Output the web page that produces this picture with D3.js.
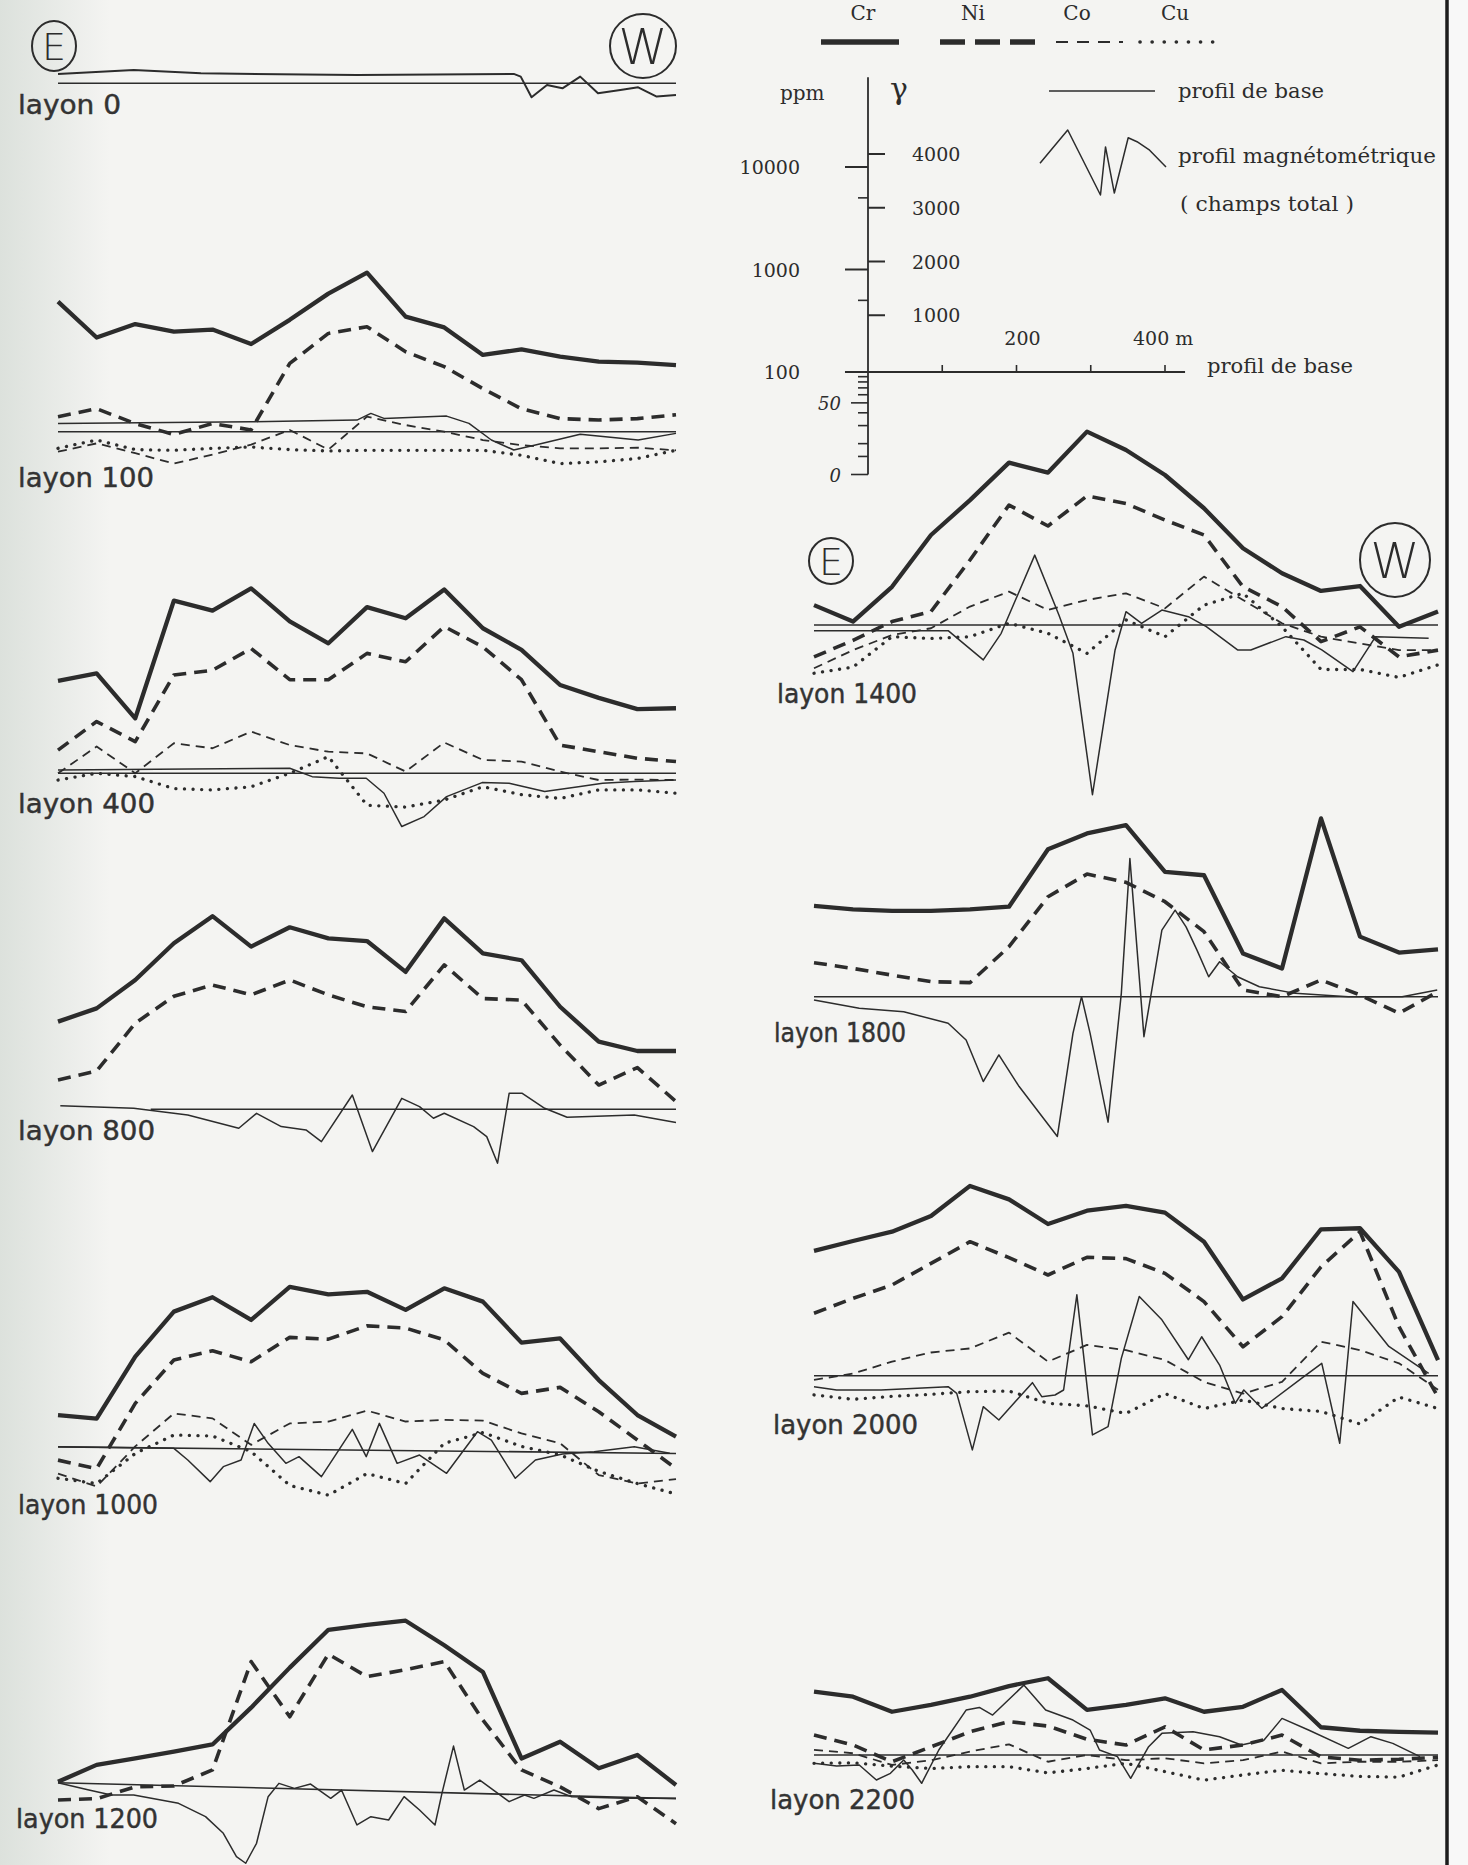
<!DOCTYPE html>
<html><head><meta charset="utf-8">
<script src="https://cdn.jsdelivr.net/npm/d3@7"></script>
<style>html,body{margin:0;padding:0;background:#f4f4f2;} svg{display:block}</style>
</head><body><svg id="c" width="1468" height="1865"></svg>
<script>
// ---------------- DATA ----------------
// stations along each profile (m), Cr/Ni/Co/Cu in ppm, magnetic anomaly in gamma
const stations = [0,50,100,150,200,250,300,350,400,450,500,550,600,650,700,750,800];

const magX0 = [0,98,185,387,590,599,613,633,653,676,699,728,751,775,800];
const magG0 = [180,256,192,160,180,128,-269,-32,-96,128,-192,-128,-77,-256,-224];

const cr100 = [1830,822,1110,935,980,710,1220,2190,3500,1310,1030,556,630,535,478,468,443];
const ni100 = [140,167,120,94,120,104,460,900,1045,598,428,262,167,134,130,134,146];
const co100 = [64,77,62,49,60,75,104,67,140,116,100,83,74,69,69,70,66];
const cu100 = [69,83,67,66,69,71,67,65,66,66,66,66,59,49,51,55,66];
const magX100 = [0,249,387,405,422,503,532,561,590,618,676,751,800];
const magG100 = [160,192,224,352,256,300,160,-160,-352,-256,-51,-160,-32];

const cr400 = [790,935,342,4750,3800,6250,2980,1830,4100,3200,6100,2560,1580,720,540,420,428];
const ni400 = [168,318,203,900,1000,1630,810,810,1460,1210,2660,1690,810,188,162,140,130];
const co400 = [100,182,100,196,175,254,188,162,156,104,199,135,130,104,86,87,86];
const cu400 = [86,100,93,71,69,74,100,145,49,47,55,74,62,57,69,69,64];
const magX400 = [0,300,329,364,399,422,445,474,503,549,584,630,676,705,746,800];
const magG400 = [64,96,-64,-96,-96,-384,-1024,-832,-448,-179,-192,-352,-256,-192,-160,-128];

const cr800 = [710,955,1800,4100,7500,3800,5850,4570,4300,2160,7140,3270,2800,990,454,368,368];
const ni800 = [193,235,685,1250,1610,1290,1800,1290,990,890,2520,1190,1150,420,172,254,119];
const magX800 = [3,98,168,234,257,289,321,341,381,407,445,468,486,500,538,555,569,584,601,630,659,746,800];
const magG800 = [70,19,-109,-365,-77,-333,-397,-621,275,-813,211,51,-173,-77,-333,-525,-1037,307,307,19,-154,-109,-256];

const cr1000 = [221,205,820,2240,3090,1860,3900,3300,3490,2330,3770,2800,1120,1230,485,222,137];
const ni1000 = [81,67,288,760,935,730,1260,1210,1630,1550,1190,563,360,412,239,127,67];
const co1000 = [60,45,110,230,206,114,184,192,245,192,199,196,147,118,58,48,53];
const cu1000 = [54,48,94,142,139,98,46,37,60,48,118,150,110,91,63,48,38];
const magX1000 = [0,150,168,197,214,237,254,272,295,312,341,381,399,416,439,468,503,543,561,592,618,653,694,746,792];
const magG1000 = [77,45,-179,-595,-307,-179,525,141,-243,-115,-499,410,-115,525,-243,-83,-435,365,205,-531,-179,-64,-19,77,-51];

const cr1200 = [102,149,172,200,235,535,1310,3050,3400,3740,2160,1190,172,250,138,186,95];
const ni1200 = [68,70,91,93,133,1500,437,1770,1070,1250,1500,406,133,91,56,73,40];
const magX1200 = [0,40,69,98,156,191,214,231,243,257,272,286,306,327,353,367,387,405,428,448,468,488,497,512,526,546,584,604,616,642,665,734,800];
const magG1200 = [0,-141,-237,-237,-397,-653,-973,-1421,-1549,-1165,-269,-13,-109,-26,-301,-141,-813,-653,-717,-269,-525,-813,-205,704,-141,51,-365,-237,-301,-141,-269,-301,-301];

const cr1400 = [156,108,235,748,1630,3770,3020,7540,5000,2860,1360,556,318,214,239,96,135];
const ni1400 = [49,71,108,135,428,1460,915,1790,1510,1045,748,235,151,69,96,49,57];
const co1400 = [38,57,80,93,151,211,140,175,203,145,295,175,104,77,66,57,57];
const cu1400 = [34,39,77,74,77,104,83,53,112,77,156,203,96,37,37,31,41];
const magX1400 = [0,172,217,240,283,314,332,357,386,400,420,446,480,503,543,560,605,628,651,691,720,788];
const magG1400 = [-109,-109,-672,-160,1344,192,-544,-3264,-480,256,32,288,160,-32,-480,-480,-224,-288,-480,-896,-224,-256];

const cr1800 = [760,705,680,680,705,748,2700,3850,4640,1630,1510,263,188,5380,383,268,288];
const ni1800 = [214,188,162,140,137,306,935,1550,1290,836,428,116,100,145,104,69,112];
const magX1800 = [0,58,115,172,195,217,237,263,312,332,343,354,377,394,405,423,446,463,477,491,506,520,543,571,617,685,754,799];
const magG1800 = [-64,-224,-288,-512,-832,-1632,-1120,-1728,-2688,-704,0,-704,-2412,64,2656,-768,1280,1664,1344,896,384,672,384,192,64,0,0,128];

const cr2000 = [1630,2030,2500,3550,6960,5150,2970,4000,4450,3830,2000,550,880,2640,2700,1020,142];
const ni2000 = [404,563,760,1230,2000,1400,950,1410,1370,985,524,191,374,1140,2500,299,62];
const co2000 = [91,105,137,168,184,262,137,199,177,142,87,67,87,214,177,132,73];
const cu2000 = [65,59,63,66,70,71,54,51,43,67,48,58,48,45,34,62,48];
const magX2000 = [0,29,86,172,183,203,217,237,280,292,309,320,337,357,377,394,417,446,480,497,520,540,551,574,628,651,674,691,737,788];
const magG2000 = [-211,-275,-275,-211,-339,-1427,-595,-851,-134,-403,-371,-275,1555,-1139,-979,333,1523,1075,307,749,205,-531,-275,-627,-19,237,-1299,1427,563,45];

const cr2200 = [412,368,263,306,368,467,556,274,306,355,263,294,428,186,172,168,165];
const ni2200 = [156,125,86,120,168,211,191,142,125,188,112,125,156,96,89,91,95];
const co2200 = [112,104,80,89,108,127,86,100,89,93,83,89,108,83,86,86,89];
const cu2200 = [83,84,78,74,77,77,67,74,83,69,57,64,71,66,62,61,80];
const magX2200 = [0,29,58,80,98,115,126,138,160,195,212,229,269,297,332,354,366,389,406,429,446,486,520,548,577,600,634,685,714,742,777];
const magG2200 = [-160,-211,-192,-480,-352,-96,-288,-544,96,864,915,768,1344,864,672,480,96,-32,-448,160,416,448,352,192,288,704,480,128,352,224,-32];

// legend content
const elements = ["Cr","Ni","Co","Cu"];
const ppmMajor = [100,1000,10000];
const ppmMinor = [500,5000];
const ppmLow = [90,80,70,60,40,30,20,15];
const ppmLowLabelled = [50,10];
const ppmLowLabels = ["50","0"];
const gammaTicks = [1000,2000,3000,4000];
const distTicks = [100,200,300,400];
const glyphU = [0,.22,.48,.52,.59,.70,.77,.87,1];
const glyphV = [.49,1,0,.74,.03,.88,.82,.69,.43];

// ---------------- LAYOUT ----------------
const svg = d3.select("#c");
const INK = "#2c2c2c";
const defs = svg.append("defs");
const grad = defs.append("linearGradient").attr("id","lg").attr("x1",0).attr("x2",1).attr("y1",0).attr("y2",0);
grad.append("stop").attr("offset",0).attr("stop-color","#dce1dc");
grad.append("stop").attr("offset",1).attr("stop-color","#f4f4f2");
svg.append("rect").attr("width",1468).attr("height",1865).attr("fill","#f4f4f2");
svg.append("rect").attr("width",110).attr("height",1865).attr("fill","url(#lg)");
svg.append("rect").attr("x",1449).attr("width",19).attr("height",1865).attr("fill","#f8f8f8");

const xCol = [
  d3.scaleLinear().domain([0,800]).range([58,676]),
  d3.scaleLinear().domain([0,800]).range([814,1438])
];
const DECADE = 103, GPX = 52;

const panels = [
  {name:"layon 0", col:0, baseY:83.3, lab:[18,114,103], magX:magX0, magG:magG0, base:[0,800,100,100]},
  {name:"layon 100", col:0, baseY:431.7, lab:[18,487,136], cr:cr100, ni:ni100, co:co100, cu:cu100, magX:magX100, magG:magG100, base:[0,800,100,100]},
  {name:"layon 400", col:0, baseY:773.3, lab:[18,813,137], cr:cr400, ni:ni400, co:co400, cu:cu400, magX:magX400, magG:magG400, base:[0,800,100,100]},
  {name:"layon 800", col:0, baseY:1109.3, lab:[18,1140,137], cr:cr800, ni:ni800, magX:magX800, magG:magG800, base:[120,800,100,100]},
  {name:"layon 1000", col:0, baseY:1450.7, lab:[18,1514,140], cr:cr1000, ni:ni1000, co:co1000, cu:cu1000, magX:magX1000, magG:magG1000, base:[0,800,109,94]},
  {name:"layon 1200", col:0, baseY:1782.7, lab:[16,1828,142], cr:cr1200, ni:ni1200, magX:magX1200, magG:magG1200, base:[0,800,100,70]},
  {name:"layon 1400", col:1, baseY:625, lab:[777,703,140], cr:cr1400, ni:ni1400, co:co1400, cu:cu1400, magX:magX1400, magG:magG1400, base:[0,800,100,100]},
  {name:"layon 1800", col:1, baseY:996.7, lab:[774,1042,132], cr:cr1800, ni:ni1800, magX:magX1800, magG:magG1800, base:[0,800,100,100]},
  {name:"layon 2000", col:1, baseY:1375.7, lab:[773,1434,145], cr:cr2000, ni:ni2000, co:co2000, cu:cu2000, magX:magX2000, magG:magG2000, base:[0,800,100,100]},
  {name:"layon 2200", col:1, baseY:1755, lab:[770,1809,145], cr:cr2200, ni:ni2200, co:co2200, cu:cu2200, magX:magX2200, magG:magG2200, base:[0,800,100,100]}
];

const styles = {
  base:{w:1.6, dash:null},
  mag:{w:1.5, dash:null},
  cu:{w:3.3, dash:"0.1,8.5", cap:"round"},
  co:{w:1.8, dash:"9,6"},
  ni:{w:3.6, dash:"13,8"},
  cr:{w:4.3, dash:null}
};
function stroke(sel, st){
  sel.attr("fill","none").attr("stroke",INK).attr("stroke-width",st.w)
     .attr("stroke-linejoin","round").attr("stroke-linecap",st.cap||"butt");
  if(st.dash) sel.attr("stroke-dasharray",st.dash);
  return sel;
}

panels.forEach(p=>{
  const x = xCol[p.col];
  const y = d3.scaleLog().domain([100,1000]).range([p.baseY, p.baseY-DECADE]);
  const g = d3.scaleLinear().domain([0,1000]).range([p.baseY, p.baseY-GPX]);
  const grp = svg.append("g");
  stroke(grp.append("path").attr("d", d3.line().x(d=>x(d[0])).y(d=>y(d[1]))([[p.base[0],p.base[2]],[p.base[1],p.base[3]]])), styles.base);
  stroke(grp.append("path").attr("d", d3.line().x((d,i)=>x(p.magX[i])).y(d=>g(d))(p.magG)), p.cr ? styles.mag : {w:2});
  ["cu","co","ni","cr"].forEach(k=>{
    if(!p[k]) return;
    stroke(grp.append("path").attr("d", d3.line().x((d,i)=>x(stations[i])).y(d=>y(d))(p[k])), styles[k]);
  });
  grp.append("text").attr("x",p.lab[0]).attr("y",p.lab[1]).text(p.name)
    .attr("font-family","'DejaVu Sans Condensed','DejaVu Sans',sans-serif").attr("font-size",26)
    .attr("fill","#333").attr("stroke","#333").attr("stroke-width",0.4)
    .attr("textLength",p.lab[2]).attr("lengthAdjust","spacingAndGlyphs");
});

// E / W markers
function marker(cx,cy,rx,ry,letter,fs){
  svg.append("ellipse").attr("cx",cx).attr("cy",cy).attr("rx",rx).attr("ry",ry)
    .attr("fill","none").attr("stroke",INK).attr("stroke-width",2);
  svg.append("text").attr("x",cx).attr("y",cy+fs*0.36).attr("text-anchor","middle")
    .attr("font-family","'DejaVu Sans',sans-serif").attr("font-weight",200).attr("font-size",fs)
    .attr("fill",INK).text(letter);
}
marker(54,46,22,25,"E",38);
marker(643,46,33,32,"W",50);
marker(831,561,22,23,"E",38);
marker(1395,560,35,37,"W",50);

// right border
svg.append("line").attr("x1",1447).attr("x2",1447).attr("y1",0).attr("y2",1865).attr("stroke","#1c1c1c").attr("stroke-width",3.5);

// ---------------- LEGEND ----------------
const SERIF = "'DejaVu Serif','Liberation Serif',serif";
const leg = svg.append("g");
const headX = [863,973,1077,1175];
leg.selectAll("text.h").data(elements).join("text").attr("class","h")
  .attr("x",(d,i)=>headX[i]).attr("y",20).attr("text-anchor","middle")
  .attr("font-family",SERIF).attr("font-size",20).attr("fill",INK).text(d=>d);
const sampleX = [[821,899],[940,1037],[1056,1123],[1140,1216]];
const sampleSt = [{w:5.5},{w:5.5,dash:"25,10"},{w:2,dash:"12,9"},{w:3.6,dash:"0.1,12",cap:"round"}];
sampleX.forEach((s,i)=>{
  stroke(leg.append("line").attr("x1",s[0]).attr("x2",s[1]).attr("y1",42).attr("y2",42), sampleSt[i]);
});

const lp = d3.scaleLog().domain([100,10000]).range([372,167]);
const lg = d3.scaleLinear().domain([0,4000]).range([369,154]);
const lx = d3.scaleLinear().domain([0,400]).range([868,1165]);
const AX = lx(0);
leg.append("line").attr("x1",AX).attr("x2",AX).attr("y1",lp(75000)).attr("y2",lp(10)).attr("stroke",INK).attr("stroke-width",1.8);
leg.selectAll("line.pm").data(ppmMajor).join("line").attr("class","pm")
  .attr("x1",AX-23).attr("x2",AX).attr("y1",d=>lp(d)).attr("y2",d=>lp(d)).attr("stroke",INK).attr("stroke-width",2);
leg.selectAll("text.pm").data(ppmMajor).join("text").attr("class","pm")
  .attr("x",AX-68).attr("y",d=>lp(d)+7).attr("text-anchor","end")
  .attr("font-family",SERIF).attr("font-size",19).attr("fill",INK).text(d=>d3.format("d")(d));
leg.selectAll("line.pn").data(ppmMinor.concat(ppmLow)).join("line").attr("class","pn")
  .attr("x1",AX-10).attr("x2",AX).attr("y1",d=>lp(d)).attr("y2",d=>lp(d)).attr("stroke",INK).attr("stroke-width",1.6);
leg.selectAll("line.pl").data(ppmLowLabelled).join("line").attr("class","pl")
  .attr("x1",AX-17).attr("x2",AX).attr("y1",d=>lp(d)).attr("y2",d=>lp(d)).attr("stroke",INK).attr("stroke-width",1.6);
leg.selectAll("text.pl").data(ppmLowLabelled).join("text").attr("class","pl")
  .attr("x",AX-27).attr("y",d=>lp(d)+7).attr("text-anchor","end").attr("font-style","italic")
  .attr("font-family",SERIF).attr("font-size",18).attr("fill",INK).text((d,i)=>ppmLowLabels[i]);
leg.selectAll("line.gm").data(gammaTicks).join("line").attr("class","gm")
  .attr("x1",AX).attr("x2",AX+17).attr("y1",d=>lg(d)).attr("y2",d=>lg(d)).attr("stroke",INK).attr("stroke-width",2);
leg.selectAll("text.gm").data(gammaTicks).join("text").attr("class","gm")
  .attr("x",AX+44).attr("y",d=>lg(d)+7)
  .attr("font-family",SERIF).attr("font-size",19).attr("fill",INK).text(d=>d);
leg.append("text").attr("x",780).attr("y",100).attr("font-family",SERIF).attr("font-size",20).attr("fill",INK).text("ppm");
leg.append("text").attr("x",899).attr("y",99).attr("text-anchor","middle").attr("font-family",SERIF).attr("font-size",30).attr("fill",INK).text("γ");
leg.append("line").attr("x1",lx(-31)).attr("x2",lx(427)).attr("y1",lp(100)).attr("y2",lp(100)).attr("stroke",INK).attr("stroke-width",1.8);
leg.selectAll("line.dx").data(distTicks).join("line").attr("class","dx")
  .attr("x1",d=>lx(d)).attr("x2",d=>lx(d)).attr("y1",lp(100)).attr("y2",lp(100)-7).attr("stroke",INK).attr("stroke-width",1.6);
leg.append("text").attr("x",lx(200)+6).attr("y",345).attr("text-anchor","middle").attr("font-family",SERIF).attr("font-size",19).attr("fill",INK).text("200");
leg.append("text").attr("x",lx(400)-32).attr("y",345).attr("font-family",SERIF).attr("font-size",19).attr("fill",INK).text("400 m");
function ltext(x,y,t,w){
  leg.append("text").attr("x",x).attr("y",y).attr("font-family",SERIF).attr("font-size",20).attr("fill",INK)
    .attr("textLength",w).attr("lengthAdjust","spacingAndGlyphs").text(t);
}
ltext(1207,373,"profil de base",146);
leg.append("line").attr("x1",1049).attr("x2",1155).attr("y1",91).attr("y2",91).attr("stroke",INK).attr("stroke-width",1.5);
ltext(1178,98,"profil de base",146);
const gx = d3.scaleLinear().domain([0,1]).range([1040,1166]);
const gy = d3.scaleLinear().domain([0,1]).range([195,130]);
stroke(leg.append("path").attr("d", d3.line().x((d,i)=>gx(glyphU[i])).y(d=>gy(d))(glyphV)), {w:1.5});
ltext(1178,163,"profil magnétométrique",258);
ltext(1180,211,"( champs total )",174);
</script></body></html>
